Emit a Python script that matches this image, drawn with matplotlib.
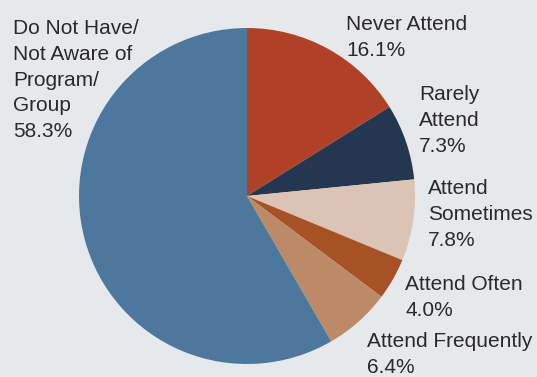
import matplotlib
matplotlib.use("Agg")
import matplotlib.pyplot as plt

categories = ["Never Attend", "Rarely\nAttend", "Attend\nSometimes", "Attend Often",
              "Attend Frequently", "Do Not Have/\nNot Aware of\nProgram/\nGroup"]
values = [16.1, 7.3, 7.8, 4.0, 6.4, 58.3]
colors = ["#b04127", "#233850", "#dcc4b4", "#a65224", "#bc8a66", "#4c789e"]
label_pos = [(346, 15), (419, 85), (428, 179), (405, 275), (367, 332), (13, 19)]

W, H = 537, 377
bg = "#e6e8ec"
fig = plt.figure(figsize=(W / 100, H / 100), dpi=100, facecolor=bg)
cx, cy, r = 247, 196, 168
ax = fig.add_axes([(cx - r) / W, (H - cy - r) / H, 2 * r / W, 2 * r / H])
ax.set_facecolor(bg)
ax.pie(values, colors=colors, startangle=90, counterclock=False, radius=1,
       wedgeprops=dict(linewidth=0))
ax.set_xlim(-1, 1)
ax.set_ylim(-1, 1)
ax.set_aspect("equal")
ax.axis("off")

for cat, v, (x, y) in zip(categories, values, label_pos):
    fig.text(x / W, 1 - y / H, f"{cat}\n{v:.1f}%", ha="left", va="top",
             fontsize=15, family="Liberation Sans", color="#2a2a2a",
             linespacing=1.45)

fig.savefig("out.png", dpi=100, facecolor=bg)
